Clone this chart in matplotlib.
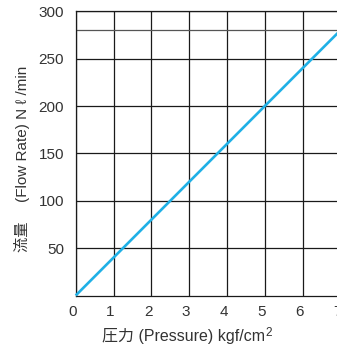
import numpy as np
import matplotlib
matplotlib.use('Agg')
import matplotlib.pyplot as plt
from matplotlib.transforms import ScaledTranslation

# Data: flow rate vs pressure (straight line, 40 N l/min per kgf/cm2)
pressure = [0, 7]
flow_rate = [0, 280]
x_ticks = [0, 1, 2, 3, 4, 5, 6, 7]
y_ticks = [50, 100, 150, 200, 250, 300]
extra_hline = 280

fonts = ['Liberation Sans Narrow', 'Liberation Sans', 'Noto Sans CJK JP', 'DejaVu Sans']
plt.rcParams['font.family'] = fonts

W, H = 337, 347
fig = plt.figure(figsize=(W / 100, H / 100), dpi=100)
left, right = 75.7, 340.3
top, bottom = 11.5, 295.5
ax = fig.add_axes([left / W, 1 - bottom / H, (right - left) / W, (bottom - top) / H])

ax.plot(pressure, flow_rate, color='#1fb0e6', lw=1.9, solid_capstyle='butt', zorder=3, clip_on=False)

ax.set_xlim(0, 7)
ax.set_ylim(0, 300)
ax.set_xticks(x_ticks)
ax.set_yticks(y_ticks)
ax.grid(True, color='#1a1a1a', lw=0.9)
ax.axhline(extra_hline, color='#555555', lw=0.9)
for s in ax.spines.values():
    s.set_color('#1a1a1a')
    s.set_linewidth(0.9)
ax.tick_params(length=0, labelsize=11, labelcolor='#333333')
ax.tick_params(axis='y', pad=8.5)
ax.tick_params(axis='x', pad=6.5)

# x labels sit a little left of their grid lines in the original
shift = ScaledTranslation(-3 / 100, 0, fig.dpi_scale_trans)
for lab in ax.get_xticklabels():
    lab.set_transform(lab.get_transform() + shift)

fig.text(22 / W, 1 - 159 / H, '流量　 (Flow Rate) N ℓ /min', rotation=90,
         ha='center', va='center', fontsize=11, color='#333333')
xl = fig.text(183 / W, 1 - 336 / H, '圧力 (Pressure) kgf/cm', ha='center', va='center',
              fontsize=11.5, color='#333333')
# superscript 2 as its own smaller text
ax.annotate('2', xy=(1, 0.32), xycoords=xl, xytext=(0.5, 0), textcoords='offset points',
            ha='left', va='bottom', fontsize=8.5, color='#333333', annotation_clip=False)

fig.savefig('out.png', dpi=100)
